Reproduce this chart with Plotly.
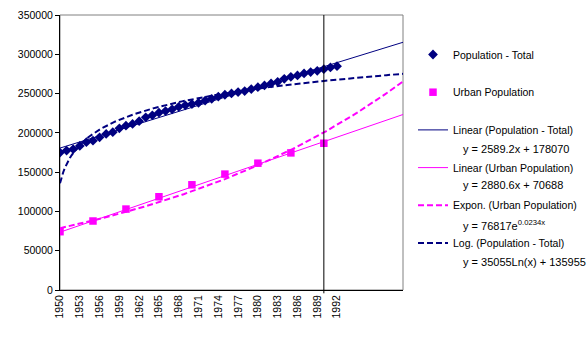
import numpy as np
import plotly.graph_objects as go

# ---- data ----
years = list(range(1950, 1993))
population_total = [174900, 177400, 179200, 183400, 188100, 190100, 194400, 198600, 200800,
                    205800, 209100, 211300, 214800, 219800, 222300, 225600, 227800, 229900,
                    233200, 235000, 236700, 238300, 240900, 243400, 246000, 248500, 250200,
                    251900, 253200, 255700, 258200, 260400, 262900, 265000, 268800, 271300,
                    273100, 275600, 277300, 278900, 281100, 283200, 284900]
urban_years = [1950, 1955, 1960, 1965, 1970, 1975, 1980, 1985, 1990]
urban_population = [74200, 87800, 103000, 118700, 133900, 147500, 161400, 174500, 186800]
x_ticks = list(range(1950, 1993, 3))

# trendline coefficients (x = category index, 1950 -> 1)
lin_total = (2589.2, 178070)
lin_urban = (2880.6, 70688)
exp_urban = (76817, 0.0234)
log_total = (35055, 135955)
forecast_end = 2002

NAVY = "#000080"
MAG = "#FF00FF"
FONT = "Liberation Sans, Arial, sans-serif"

xf = np.linspace(1950, forecast_end, 209)
k = xf - 1949

fig = go.Figure()
fig.add_trace(go.Scatter(x=xf, y=lin_total[0] * k + lin_total[1], mode="lines",
                         line=dict(color=NAVY, width=1), name="Linear (Population - Total)",
                         legendrank=3, legendgroup="g3"))
fig.add_trace(go.Scatter(x=xf, y=lin_urban[0] * k + lin_urban[1], mode="lines",
                         line=dict(color=MAG, width=1), name="Linear (Urban Population)",
                         legendrank=4, legendgroup="g4"))
fig.add_trace(go.Scatter(x=xf, y=exp_urban[0] * np.exp(exp_urban[1] * k), mode="lines",
                         line=dict(color=MAG, width=2, dash="6px,3px"), name="Expon. (Urban Population)",
                         legendrank=5, legendgroup="g5"))
fig.add_trace(go.Scatter(x=xf, y=log_total[0] * np.log(k) + log_total[1], mode="lines",
                         line=dict(color=NAVY, width=2, dash="6px,3px"), name="Log. (Population - Total)",
                         legendrank=6, legendgroup="g6"))
fig.add_trace(go.Scatter(x=years, y=population_total, mode="markers",
                         marker=dict(symbol="diamond", size=7.5, color=NAVY),
                         name="Population - Total", legendrank=1, legendgroup="g1"))
fig.add_trace(go.Scatter(x=urban_years, y=urban_population, mode="markers",
                         marker=dict(symbol="square", size=7.5, color=MAG),
                         name="Urban Population", legendrank=2, legendgroup="g2"))

# equations next to legend entries
equations = [("y = 2589.2x + 178070", 148.5),
             ("y = 2880.6x + 70688", 184.5),
             ("y = 76817e<sup>0.0234x</sup>", 224.5),
             ("y = 35055Ln(x) + 135955", 262)]
L, R, T, B = 60, 403, 15, 290
for txt, py in equations:
    fig.add_annotation(text=txt, xref="paper", yref="paper",
                       x=(461 - L) / (R - L), y=(B - py) / (B - T),
                       xanchor="left", yanchor="middle", showarrow=False,
                       font=dict(family=FONT, size=11, color="black"))

# plot-area border (grey top/right) and vertical marker line
fig.add_shape(type="rect", xref="paper", yref="paper", x0=0, y0=0, x1=1, y1=1,
              line=dict(color="#808080", width=1), layer="below")
fig.add_shape(type="line", xref="x", yref="paper", x0=1990, x1=1990, y0=-0.012, y1=1,
              line=dict(color="black", width=1))

fig.update_layout(
    width=586, height=338,
    margin=dict(l=L, r=586 - R, t=T, b=338 - B, autoexpand=False),
    paper_bgcolor="white", plot_bgcolor="white",
    font=dict(family=FONT, size=10.5, color="black"),
    showlegend=True,
    legend=dict(x=(413 - L) / (R - L), y=(B - 40) / (B - T), xanchor="left", yanchor="top",
                traceorder="grouped", tracegroupgap=18.7, bgcolor="rgba(0,0,0,0)",
                font=dict(family=FONT, size=10.5, color="black")),
    xaxis=dict(range=[1950, forecast_end], tickmode="array", tickvals=x_ticks,
               ticktext=[str(v) for v in x_ticks], tickangle=-90, showgrid=False,
               zeroline=False, showline=True, linecolor="black", linewidth=1, ticks=""),
    yaxis=dict(range=[0, 350000], dtick=50000, tickformat="d", showgrid=False,
               zeroline=False, showline=True, linecolor="black", linewidth=1,
               ticks="outside", ticklen=4, tickcolor="black"),
)

fig.write_html("out.html")
